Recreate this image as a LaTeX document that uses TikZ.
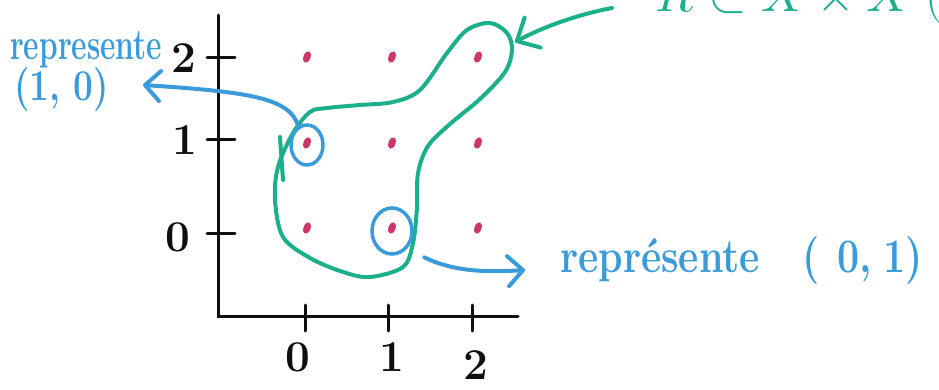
\documentclass[tikz,border=0pt]{standalone}
\usepackage{graphicx}
\usepackage{unicode-math}
\usepackage{tikz}
\usetikzlibrary{arrows.meta,positioning,calc,shapes.geometric}
\definecolor{ink}{RGB}{15,15,15}
\definecolor{penred}{RGB}{204,54,104}
\definecolor{penblue}{RGB}{59,155,218}
\definecolor{pengreen}{RGB}{27,175,140}
\tikzset{axis/.style={line width=3pt,draw=ink,line cap=round},num/.style={text=ink,inner sep=0pt,font=\fontsize{44}{44}\selectfont\bfseries},dot/.style={ellipse,fill=penred,minimum width=7pt,minimum height=12pt,inner sep=0pt,rotate=-20},ring/.style={ellipse,draw=penblue,line width=3.5pt,inner sep=0pt},note/.style={text=penblue,inner sep=0pt},hint/.style={-{Straight Barb[length=15pt,width=30pt,round]},line width=4pt,draw=penblue,line cap=round},blob/.style={draw=pengreen,line width=4pt,line cap=round,line join=round},pull/.style={-{Straight Barb[length=18pt,width=34pt,round]},line width=4pt,draw=pengreen,line cap=round}}

\begin{document}
\begin{tikzpicture}[x=1pt,y=-1pt]
\useasboundingbox (0,0) rectangle (939,390);
\clip (0,0) rectangle (939,390);
% axes and ticks
\draw[axis] (218,15) -- (218,316) -- (518,316);
\foreach \yy in {58,140,233} \draw[axis] (207,\yy) -- (235,\yy);
\foreach \xx in {305,388,472} \draw[axis] (\xx,305) -- (\xx,331);
\node[num] (y2) at (184,58) {2};
\node[num] (y1) at (185,140) {1};
\node[num] (y0) at (178,237) {0};
\node[num] (x0) at (298,357) {0};
\node[num] (x1) at (392,357) {1};
\node[num] (x2) at (476,365) {2};
% grid points
\foreach \i/\xx in {0/307,1/392,2/478}
  \foreach \j/\yy in {0/228,1/143,2/57}
    \node[dot] (d\i\j) at (\xx,\yy) {};
% the relation R
\draw[blob] plot[smooth cycle,tension=0.55] coordinates {(310,112) (327,108) (360,105) (393,102) (420,90) (447,53) (467,30) (490,23) (507,33) (512,50) (505,72) (480,99) (450,124) (428,146) (418,173) (417,207) (413,243) (403,267) (370,277) (343,272) (310,258) (283,237) (275,200) (278,167) (293,133)};
\draw[blob] (280,137) -- (283,180);
\coordinate (blobtip) at (515,42);
\node[text=pengreen,anchor=base west,inner sep=0pt,font=\fontsize{50}{50}\selectfont] (rel) at (655,12) {$R\subset X\times X$ (};
\draw[pull] ([xshift=-43pt,yshift=4pt]rel.base west) .. controls (580,14) and (545,26) .. (blobtip);
% circled pairs
\node[ring,minimum width=32pt,minimum height=40pt] (ringA) at ([yshift=-2pt]d01) {};
\node[ring,minimum width=40pt,minimum height=46pt] (ringB) at ([yshift=-3pt]d10) {};
% notes
\node[note,anchor=base west,font=\fontsize{44}{44}\selectfont\bfseries] (wordA) at (10,60) {\scalebox{0.68}[1]{represente}};
\node[note,anchor=base west,font=\fontsize{44}{44}\selectfont\bfseries] (pairA) at (14,101) {\scalebox{0.8}[1]{(1,\hspace{16pt}0)}};
\coordinate (tipA) at (143,85);
\draw[hint] (ringA.115) .. controls (290,98) and (250,92) .. (tipA);
\node[note,anchor=base west,font=\fontsize{48}{48}\selectfont\bfseries] (wordB) at (560,272) {\scalebox{0.82}[1]{représente\hspace{52pt}(\hspace{22pt}0,\hspace{14pt}1)}};
\draw[hint] ([xshift=16pt,yshift=-10pt]ringB.-45) .. controls (450,270) and (480,273) .. ([xshift=-35pt,yshift=2pt]wordB.base west);
\end{tikzpicture}
\end{document}
